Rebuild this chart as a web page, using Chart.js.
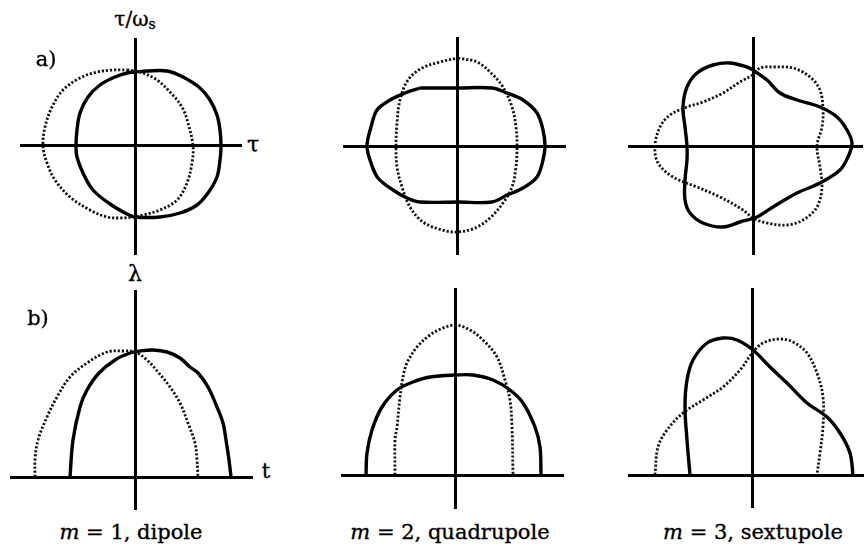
<!DOCTYPE html>
<html><head><meta charset="utf-8">
<script src="https://cdn.jsdelivr.net/npm/chart.js@4.4.1/dist/chart.umd.min.js"></script>
<style>
html,body{margin:0;padding:0;background:#fff;}
#fig{position:relative;width:864px;height:547px;overflow:hidden;font-family:"DejaVu Serif",serif;color:#000;}
.pan{position:absolute;}
.lbl{position:absolute;transform:translate(-50%,-50%);white-space:nowrap;line-height:1;-webkit-text-stroke:0.35px #000;}
</style></head><body><div id="fig"></div>
<script>
// ---------- DATA (phase space: tau, tau/omega_s ; line density: t, lambda) ----------
// a) m=1 dipole, phase space
const dipolePhaseSolid = [[0,0.74],[0.12,0.75],[0.32,0.75],[0.48,0.69],[0.65,0.58],[0.75,0.46],[0.82,0.31],[0.85,0.16],[0.86,0],[0.85,-0.14],[0.82,-0.31],[0.73,-0.47],[0.62,-0.59],[0.45,-0.67],[0.25,-0.71],[0,-0.71],[-0.08,-0.68],[-0.25,-0.58],[-0.42,-0.44],[-0.52,-0.27],[-0.58,-0.11],[-0.59,0],[-0.58,0.16],[-0.55,0.33],[-0.47,0.49],[-0.35,0.61],[-0.20,0.69],[-0.08,0.73],[0,0.74]];
const dipolePhaseDotted = [[-0.08,0.76],[0,0.75],[0.08,0.73],[0.22,0.66],[0.35,0.54],[0.47,0.39],[0.53,0.23],[0.58,0],[0.57,-0.17],[0.52,-0.37],[0.42,-0.54],[0.25,-0.64],[0.08,-0.69],[-0.02,-0.71],[-0.15,-0.72],[-0.28,-0.71],[-0.45,-0.64],[-0.65,-0.51],[-0.80,-0.34],[-0.88,-0.17],[-0.92,0],[-0.90,0.19],[-0.83,0.39],[-0.72,0.56],[-0.55,0.68],[-0.38,0.74],[-0.22,0.76],[-0.08,0.76]];
// a) m=2 quadrupole
const quadPhaseSolid = [[-0.38,0.58],[0,0.58],[0.34,0.58],[0.49,0.53],[0.65,0.46],[0.79,0.33],[0.85,0.16],[0.87,0],[0.85,-0.14],[0.79,-0.31],[0.65,-0.42],[0.49,-0.49],[0.34,-0.56],[0,-0.56],[-0.38,-0.56],[-0.51,-0.52],[-0.65,-0.44],[-0.80,-0.32],[-0.87,-0.17],[-0.91,0],[-0.87,0.19],[-0.81,0.36],[-0.68,0.46],[-0.53,0.53],[-0.38,0.58]];
const quadPhaseDotted = [[0,0.88],[0.19,0.84],[0.32,0.74],[0.45,0.59],[0.54,0.39],[0.58,0.19],[0.59,0],[0.58,-0.21],[0.54,-0.41],[0.45,-0.57],[0.32,-0.72],[0.17,-0.82],[0,-0.86],[-0.16,-0.84],[-0.35,-0.76],[-0.48,-0.61],[-0.56,-0.41],[-0.61,-0.21],[-0.62,0],[-0.61,0.23],[-0.58,0.46],[-0.50,0.66],[-0.36,0.78],[-0.18,0.84],[0,0.88]];
// a) m=3 sextupole
const sextPhaseSolid = [[0,0.76],[0.14,0.66],[0.27,0.53],[0.44,0.46],[0.67,0.39],[0.84,0.29],[0.94,0.16],[0.99,0.03],[0.95,-0.11],[0.87,-0.24],[0.67,-0.37],[0.44,-0.47],[0.20,-0.61],[0.04,-0.71],[-0.13,-0.76],[-0.30,-0.81],[-0.50,-0.77],[-0.63,-0.67],[-0.68,-0.54],[-0.68,-0.34],[-0.66,-0.14],[-0.66,0],[-0.68,0.19],[-0.70,0.39],[-0.66,0.59],[-0.56,0.73],[-0.40,0.81],[-0.23,0.83],[-0.06,0.79],[0,0.76]];
const sextPhaseDotted = [[0,0.71],[-0.13,0.64],[-0.30,0.53],[-0.50,0.44],[-0.66,0.39],[-0.83,0.31],[-0.93,0.19],[-0.98,0],[-0.95,-0.17],[-0.80,-0.31],[-0.56,-0.41],[-0.33,-0.51],[-0.10,-0.64],[0,-0.72],[0.14,-0.77],[0.34,-0.79],[0.50,-0.74],[0.64,-0.61],[0.69,-0.41],[0.67,-0.21],[0.64,0],[0.69,0.19],[0.70,0.36],[0.67,0.56],[0.57,0.69],[0.40,0.78],[0.20,0.79],[0.07,0.78],[0,0.71]];
// b) line densities
const dipoleLineSolid = [[-0.65,0],[-0.62,0.37],[-0.55,0.70],[-0.48,0.87],[-0.36,1.04],[-0.20,1.17],[-0.05,1.24],[0.05,1.26],[0.18,1.27],[0.32,1.25],[0.45,1.19],[0.55,1.10],[0.63,1.04],[0.73,0.90],[0.82,0.70],[0.88,0.54],[0.91,0.37],[0.94,0.17],[0.96,0]];
const dipoleLineDotted = [[-1.00,0],[-1.00,0.17],[-0.97,0.37],[-0.88,0.60],[-0.78,0.80],[-0.65,1.00],[-0.48,1.14],[-0.28,1.25],[-0.12,1.26],[0,1.25],[0.12,1.17],[0.23,1.05],[0.35,0.90],[0.45,0.74],[0.53,0.54],[0.60,0.34],[0.62,0.17],[0.63,0]];
const quadLineSolid = [[-0.90,0],[-0.89,0.22],[-0.84,0.45],[-0.74,0.68],[-0.59,0.85],[-0.43,0.93],[-0.26,0.98],[0,1.00],[0.17,1.00],[0.37,0.95],[0.54,0.85],[0.67,0.72],[0.79,0.48],[0.84,0.28],[0.85,0]];
const quadLineDotted = [[-0.61,0],[-0.61,0.35],[-0.59,0.48],[-0.56,0.78],[-0.53,0.98],[-0.49,1.12],[-0.39,1.28],[-0.26,1.40],[-0.13,1.47],[0,1.50],[0.14,1.45],[0.27,1.35],[0.41,1.18],[0.49,0.95],[0.54,0.75],[0.56,0.48],[0.57,0]];
const sextLineSolid = [[-0.63,0],[-0.66,0.35],[-0.68,0.68],[-0.66,0.95],[-0.60,1.15],[-0.46,1.32],[-0.30,1.37],[-0.16,1.35],[0,1.25],[0.17,1.08],[0.34,0.92],[0.54,0.72],[0.74,0.58],[0.87,0.42],[0.97,0.22],[1.00,0]];
const sextLineDotted = [[-0.98,0],[-0.95,0.28],[-0.86,0.45],[-0.70,0.62],[-0.50,0.75],[-0.30,0.88],[-0.13,1.05],[0,1.23],[0.10,1.32],[0.27,1.36],[0.40,1.33],[0.54,1.22],[0.64,1.02],[0.70,0.78],[0.70,0.48],[0.67,0.22],[0.64,0]];
// axis extents (data units)
const phaseXRanges = [[-1.15,1.07],[-1.15,1.08],[-1.25,1.10]];
const phaseYRanges = [[-1.09,1.08],[-1.09,1.09],[-1.09,1.09]];
const lineXRanges  = [[-1.25,1.18],[-1.15,1.08],[-1.25,1.11]];
const lineYRanges  = [[-0.33,1.87],[-0.34,1.87],[-0.33,1.87]];
const captions = ["1, dipole","2, quadrupole","3, sextupole"];

// ---------- LAYOUT ----------
const PX = 100; // pixels per data unit
const origins = [[135,146],[458,146],[753,146],[135,477],[456,475],[753,475]];
const fig = document.getElementById('fig');
const toPts = a => a.map(p => ({x:p[0], y:p[1]}));

function makePanel(i, xr, yr, dotted, solid){
  const [ox, oy] = origins[i];
  const left = Math.round(ox + xr[0]*PX), right = Math.round(ox + xr[1]*PX);
  const top = Math.round(oy - yr[1]*PX), bottom = Math.round(oy - yr[0]*PX);
  const c = document.createElement('canvas');
  c.className = 'pan';
  c.width = right-left; c.height = bottom-top;
  c.style.left = left+'px'; c.style.top = top+'px';
  c.style.width = (right-left)+'px'; c.style.height = (bottom-top)+'px';
  fig.appendChild(c);
  const axisOpts = (pos, r) => ({type:'linear', min:r[0], max:r[1], position:pos,
      grid:{display:false}, ticks:{display:false}, title:{display:false},
      border:{display:true, color:'#000', width:3}});
  new Chart(c, {
    type:'scatter',
    data:{datasets:[
      {data:toPts(dotted), showLine:true, borderColor:'#111', borderWidth:2.8, borderDash:[2.2,1.9],
       pointRadius:0, tension:0.35, fill:false, clip:false},
      {data:toPts(solid), showLine:true, borderColor:'#000', borderWidth:3.4,
       pointRadius:0, tension:0.35, fill:false, clip:false}
    ]},
    options:{responsive:false, animation:false, devicePixelRatio:1, events:[],
      layout:{padding:0},
      plugins:{legend:{display:false}, tooltip:{enabled:false}},
      scales:{x:axisOpts({y:0}, xr), y:axisOpts({x:0}, yr)}}
  });
}
makePanel(0, phaseXRanges[0], phaseYRanges[0], dipolePhaseDotted, dipolePhaseSolid);
makePanel(1, phaseXRanges[1], phaseYRanges[1], quadPhaseDotted, quadPhaseSolid);
makePanel(2, phaseXRanges[2], phaseYRanges[2], sextPhaseDotted, sextPhaseSolid);
makePanel(3, lineXRanges[0], lineYRanges[0], dipoleLineDotted, dipoleLineSolid);
makePanel(4, lineXRanges[1], lineYRanges[1], quadLineDotted, quadLineSolid);
makePanel(5, lineXRanges[2], lineYRanges[2], sextLineDotted, sextLineSolid);

function label(html, x, y, size){
  const d = document.createElement('div');
  d.className = 'lbl'; d.innerHTML = html;
  d.style.left = x+'px'; d.style.top = y+'px'; d.style.fontSize = size+'px';
  fig.appendChild(d);
}
label('τ/ω<sub style="font-size:0.7em;vertical-align:-0.25em">s</sub>', 135, 20, 20);
label('a)', 46, 59, 21);
label('τ', 253, 145, 22);
label('λ', 135, 274, 22);
label('b)', 38, 318, 21);
label('t', 266, 471, 21);
const capX = [131, 450, 753];
captions.forEach((t,i) => label('<i>m</i> = ' + t, capX[i], 532, 21));
</script></body></html>
